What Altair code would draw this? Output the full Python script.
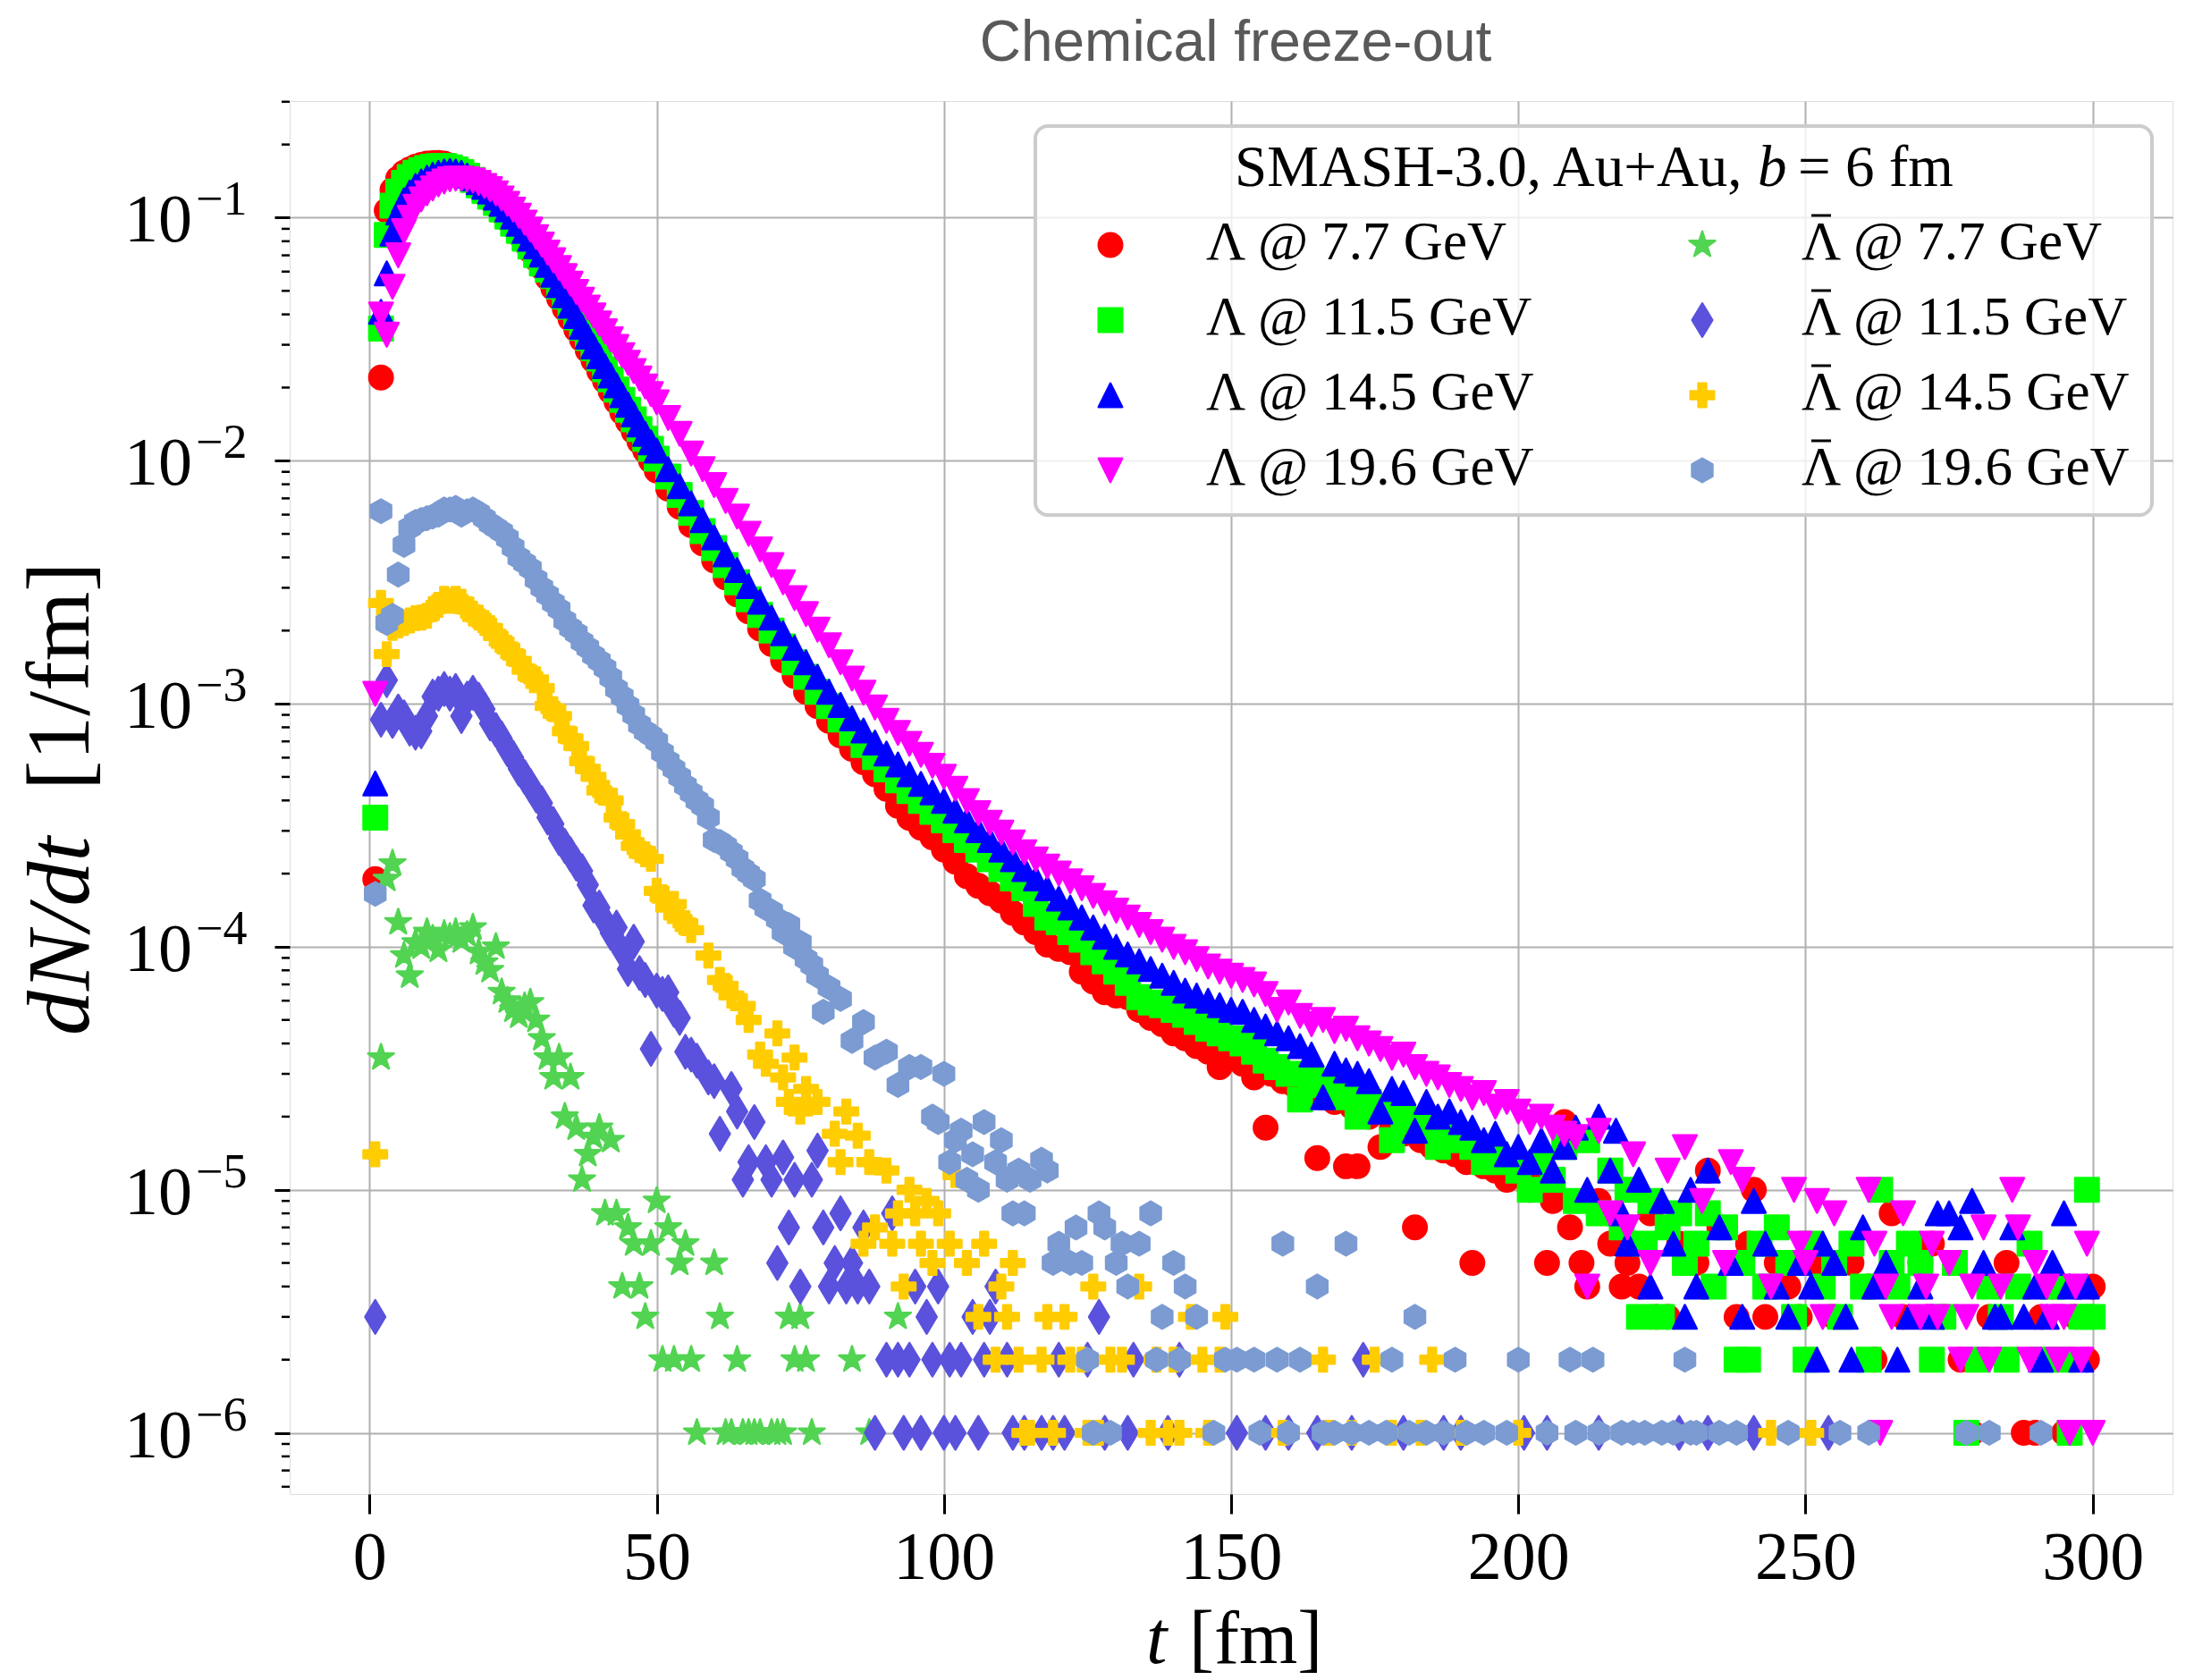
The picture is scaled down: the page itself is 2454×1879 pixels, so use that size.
import math
import altair as alt
import pandas as pd

# ---------------- data: (t [fm], dN/dt [1/fm]) ----------------
lam_77 = [(1,1.9e-4),(2,2.2e-2),(3,1.07e-1),(4,1.3e-1),(5,1.45e-1),(6,1.53e-1),(7,1.58e-1),(8,1.62e-1),(9,1.65e-1),(10,1.67e-1),
(11,1.675e-1),(12,1.68e-1),(13,1.67e-1),(14,1.64e-1),(15,1.6e-1),(16,1.55e-1),(17,1.49e-1),(18,1.41e-1),(19,1.34e-1),(20,1.27e-1),
(21,1.19e-1),(22,1.12e-1),(23,1.05e-1),(24,9.84e-2),(25,9.18e-2),(26,8.55e-2),(27,7.94e-2),(28,7.33e-2),(29,6.76e-2),(30,6.24e-2),
(31,5.66e-2),(32,5.13e-2),(33,4.66e-2),(34,4.22e-2),(35,3.83e-2),(36,3.47e-2),(37,3.15e-2),(38,2.85e-2),(39,2.59e-2),(40,2.34e-2),
(41,2.13e-2),(42,1.93e-2),(43,1.75e-2),(44,1.58e-2),(45,1.45e-2),(46,1.32e-2),(47,1.2e-2),(48,1.1e-2),(49,1.0e-2),(50,9.12e-3),
(52,7.67e-3),(54,6.46e-3),(56,5.43e-3),(58,4.57e-3),(60,3.89e-3),(62,3.31e-3),(64,2.82e-3),(66,2.4e-3),(68,2.04e-3),(70,1.76e-3),
(72,1.51e-3),(74,1.3e-3),(76,1.12e-3),(78,9.77e-4),(80,8.51e-4),(82,7.41e-4),(84,6.53e-4),(86,5.75e-4),(88,5.13e-4),(90,4.47e-4),
(92,3.8e-4),(94,3.39e-4),(96,3.09e-4),(98,2.82e-4),(100,2.51e-4),(102,2.24e-4),(104,1.95e-4),(106,1.78e-4),(108,1.66e-4),(110,1.55e-4),
(112,1.38e-4),(114,1.26e-4),(116,1.15e-4),(118,1.02e-4),(120,9.8e-5),(122,9.5e-5),(124,7.9e-5),(126,7.2e-5),(128,6.5e-5),(130,6.3e-5),
(132,6.2e-5),(134,5.5e-5),(136,5.1e-5),(138,4.8e-5),(140,4.4e-5),(142,4.2e-5),(144,3.9e-5),(146,3.7e-5),(148,3.2e-5),(150,3.5e-5),
(152,3.3e-5),(154,2.9e-5),(156,1.8e-5),(157,3.0e-5),(159,2.8e-5),(161,2.7e-5),(163,2.6e-5),(165,1.35e-5),(166,2.4e-5),(168,2.3e-5),
(170,1.25e-5),(171,2.2e-5),(172,1.25e-5),(174,2.0e-5),(176,1.5e-5),(178,1.8e-5),(180,1.7e-5),(182,7e-6),(183,1.6e-5),(185,1.5e-5),
(187,1.45e-5),(189,1.4e-5),(191,1.3e-5),(192,5e-6),(194,1.25e-5),(196,1.2e-5),(198,1.1e-5),(200,1.15e-5),(202,1.0e-5),(204,1.1e-5),
(205,5e-6),(206,9e-6),(208,1.9e-5),(209,7e-6),(211,5e-6),(212,4e-6),(214,9e-6),(216,6e-6),(218,4e-6),(219,5e-6),(221,4e-6),
(223,8e-6),(224,3e-6),(226,3e-6),(228,6e-6),(231,5e-6),(233,1.2e-5),(235,7e-6),(238,3e-6),(240,6e-6),(241,1.0e-5),(243,3e-6),
(245,5e-6),(247,4e-6),(249,3e-6),(252,5e-6),(255,3e-6),(258,5e-6),(261,4e-6),(262,2e-6),(265,8e-6),(267,3e-6),(270,5e-6),
(272,6e-6),(274,3e-6),(277,2e-6),(279,1e-6),(282,3e-6),(285,5e-6),(288,1e-6),(290,1e-6),(291,3e-6),(293,4e-6),(295,1e-6),
(297,3e-6),(299,2e-6),(300,4e-6)]

lam_115 = [(1,3.4e-4),(2,3.5e-2),(3,8.5e-2),(4,1.12e-1),(5,1.28e-1),(6,1.39e-1),(7,1.47e-1),(8,1.53e-1),(9,1.57e-1),(10,1.6e-1),
(11,1.62e-1),(12,1.63e-1),(13,1.63e-1),(14,1.61e-1),(15,1.58e-1),(16,1.54e-1),(17,1.49e-1),(18,1.43e-1),(19,1.36e-1),(20,1.29e-1),
(21,1.22e-1),(22,1.15e-1),(23,1.08e-1),(24,1.01e-1),(25,9.45e-2),(26,8.82e-2),(27,8.2e-2),(28,7.6e-2),(29,7.02e-2),(30,6.48e-2),
(31,6.11e-2),(32,5.75e-2),(33,5.21e-2),(34,4.73e-2),(35,4.29e-2),(36,3.89e-2),(37,3.52e-2),(38,3.2e-2),(39,2.9e-2),(40,2.63e-2),
(41,2.38e-2),(42,2.16e-2),(43,1.96e-2),(44,1.78e-2),(45,1.62e-2),(46,1.48e-2),(47,1.35e-2),(48,1.23e-2),(49,1.12e-2),(50,1.02e-2),
(52,8.61e-3),(54,7.24e-3),(56,6.1e-3),(58,5.13e-3),(60,4.37e-3),(62,3.72e-3),(64,3.16e-3),(66,2.69e-3),(68,2.32e-3),(70,2.0e-3),
(72,1.72e-3),(74,1.48e-3),(76,1.29e-3),(78,1.12e-3),(80,9.77e-4),(82,8.61e-4),(84,7.59e-4),(86,6.76e-4),(88,6.03e-4),(90,5.37e-4),
(92,4.84e-4),(94,4.37e-4),(96,3.98e-4),(98,3.59e-4),(100,3.31e-4),(102,3.02e-4),(104,2.75e-4),(106,2.51e-4),(108,2.29e-4),(110,2.09e-4),
(112,1.91e-4),(114,1.74e-4),(116,1.5e-4),(118,1.32e-4),(120,1.26e-4),(122,1.15e-4),(124,1.07e-4),(126,9.5e-5),(128,8.7e-5),(130,7.9e-5),
(132,7.1e-5),(134,6.2e-5),(136,5.9e-5),(138,5.75e-5),(140,5.5e-5),(142,5.25e-5),(144,4.9e-5),(146,4.6e-5),(148,4.4e-5),(150,4.2e-5),
(152,4.0e-5),(154,3.7e-5),(156,3.4e-5),(158,3.2e-5),(160,3.0e-5),(162,2.35e-5),(164,2.9e-5),(166,2.7e-5),(168,2.6e-5),(170,2.4e-5),
(172,2.0e-5),(174,2.3e-5),(176,2.2e-5),(178,1.6e-5),(180,2.0e-5),(182,1.9e-5),(184,1.8e-5),(186,1.5e-5),(188,1.7e-5),(190,1.6e-5),
(192,1.5e-5),(194,1.3e-5),(196,1.4e-5),(198,1.3e-5),(200,1.2e-5),(202,1.0e-5),(204,1.3e-5),(206,1.1e-5),(208,1.5e-5),(210,9e-6),
(212,1.6e-5),(214,8e-6),(216,1.2e-5),(218,7e-6),(219,1.0e-5),(221,3e-6),(222,6e-6),(223,9e-6),(225,3e-6),(226,7e-6),(228,8e-6),
(229,5e-6),(231,6e-6),(233,8e-6),(234,4e-6),(236,7e-6),(238,2e-6),(239,5e-6),(240,2e-6),(242,6e-6),(243,4e-6),(245,7e-6),
(247,5e-6),(248,3e-6),(250,2e-6),(251,6e-6),(253,4e-6),(255,5e-6),(256,3e-6),(258,6e-6),(260,4e-6),(261,2e-6),(263,1.0e-5),
(265,5e-6),(266,4e-6),(268,6e-6),(270,5e-6),(272,2e-6),(274,3e-6),(276,5e-6),(278,1e-6),(280,2e-6),(282,4e-6),(284,3e-6),
(285,2e-6),(287,4e-6),(289,6e-6),(291,2e-6),(293,4e-6),(295,2e-6),(296,1e-6),(298,3e-6),(299,1.0e-5),(300,3e-6)]

lam_145 = [(1,4.7e-4),(2,4.1e-2),(3,5.9e-2),(4,8.6e-2),(5,1.05e-1),(6,1.18e-1),(7,1.27e-1),(8,1.35e-1),(9,1.41e-1),(10,1.46e-1),
(11,1.5e-1),(12,1.53e-1),(13,1.55e-1),(14,1.56e-1),(15,1.55e-1),(16,1.53e-1),(17,1.49e-1),(18,1.45e-1),(19,1.4e-1),(20,1.34e-1),
(21,1.28e-1),(22,1.21e-1),(23,1.14e-1),(24,1.08e-1),(25,1.01e-1),(26,9.45e-2),(27,8.82e-2),(28,8.2e-2),(29,7.62e-2),(30,7.05e-2),
(31,6.4e-2),(32,5.82e-2),(33,5.27e-2),(34,4.79e-2),(35,4.34e-2),(36,3.94e-2),(37,3.56e-2),(38,3.24e-2),(39,2.95e-2),(40,2.69e-2),
(41,2.45e-2),(42,2.24e-2),(43,2.04e-2),(44,1.86e-2),(45,1.7e-2),(46,1.55e-2),(47,1.41e-2),(48,1.29e-2),(49,1.19e-2),(50,1.1e-2),
(52,9.23e-3),(54,7.85e-3),(56,6.68e-3),(58,5.69e-3),(60,4.84e-3),(62,4.12e-3),(64,3.55e-3),(66,3.05e-3),(68,2.63e-3),(70,2.26e-3),
(72,1.95e-3),(74,1.7e-3),(76,1.48e-3),(78,1.29e-3),(80,1.12e-3),(82,9.89e-4),(84,8.71e-4),(86,7.76e-4),(88,6.92e-4),(90,6.24e-4),
(92,5.62e-4),(94,5.13e-4),(96,4.68e-4),(98,4.32e-4),(100,3.98e-4),(102,3.63e-4),(104,3.31e-4),(106,3.02e-4),(108,2.75e-4),(110,2.51e-4),
(112,2.29e-4),(114,2.09e-4),(116,1.91e-4),(118,1.74e-4),(120,1.58e-4),(122,1.45e-4),(124,1.32e-4),(126,1.2e-4),(128,1.1e-4),(130,1.0e-4),
(132,9.3e-5),(134,8.7e-5),(136,8.1e-5),(138,7.6e-5),(140,7.1e-5),(142,6.6e-5),(144,6.3e-5),(146,6.0e-5),(148,5.75e-5),(150,5.5e-5),
(152,5.4e-5),(154,5.0e-5),(156,4.7e-5),(158,4.4e-5),(160,4.2e-5),(162,3.9e-5),(164,3.6e-5),(166,2.4e-5),(168,3.3e-5),(170,3.1e-5),
(172,3.0e-5),(174,2.8e-5),(176,2.1e-5),(178,2.6e-5),(180,2.5e-5),(182,1.75e-5),(184,2.3e-5),(186,2.0e-5),(188,2.1e-5),(190,1.9e-5),
(192,1.8e-5),(194,1.6e-5),(196,1.7e-5),(198,1.4e-5),(200,1.5e-5),(202,1.3e-5),(204,1.6e-5),(206,1.2e-5),(208,1.5e-5),(210,1.8e-5),
(212,1.0e-5),(214,2.0e-5),(216,1.2e-5),(217,1.75e-5),(218,8e-6),(219,6e-6),(221,1.1e-5),(223,4e-6),(225,9e-6),(227,6e-6),
(229,3e-6),(230,1.0e-5),(231,4e-6),(233,1.2e-5),(235,7e-6),(237,5e-6),(239,3e-6),(241,9e-6),(243,6e-6),(245,4e-6),(247,3e-6),
(249,5e-6),(251,4e-6),(252,2e-6),(253,6e-6),(255,5e-6),(257,3e-6),(258,2e-6),(260,7e-6),(262,4e-6),(264,5e-6),(266,2e-6),
(268,3e-6),(270,4e-6),(272,3e-6),(273,8e-6),(275,8e-6),(277,7e-6),(279,9e-6),(281,5e-6),(283,3e-6),(284,3e-6),(286,7e-6),
(288,3e-6),(290,4e-6),(291,2e-6),(292,3e-6),(293,5e-6),(295,8e-6),(296,4e-6),(298,2e-6),(299,4e-6)]

lam_196 = [(1,1.1e-3),(2,4.0e-2),(3,3.3e-2),(4,5.2e-2),(5,7.0e-2),(6,8.8e-2),(7,1.0e-1),(8,1.11e-1),(9,1.19e-1),(10,1.26e-1),
(11,1.32e-1),(12,1.37e-1),(13,1.41e-1),(14,1.44e-1),(15,1.45e-1),(16,1.45e-1),(17,1.44e-1),(18,1.42e-1),(19,1.39e-1),(20,1.35e-1),
(21,1.31e-1),(22,1.26e-1),(23,1.2e-1),(24,1.14e-1),(25,1.08e-1),(26,1.02e-1),(27,9.55e-2),(28,8.93e-2),(29,8.32e-2),(30,7.75e-2),
(31,7.19e-2),(32,6.68e-2),(33,6.21e-2),(34,5.75e-2),(35,5.35e-2),(36,4.95e-2),(37,4.6e-2),(38,4.27e-2),(39,3.96e-2),(40,3.67e-2),
(41,3.41e-2),(42,3.16e-2),(43,2.94e-2),(44,2.72e-2),(45,2.53e-2),(46,2.34e-2),(47,2.18e-2),(48,2.02e-2),(49,1.88e-2),(50,1.74e-2),
(52,1.5e-2),(54,1.29e-2),(56,1.07e-2),(58,9.23e-3),(60,7.94e-3),(62,6.84e-3),(64,5.89e-3),(66,5.01e-3),(68,4.32e-3),(70,3.72e-3),
(72,3.16e-3),(74,2.72e-3),(76,2.34e-3),(78,2.02e-3),(80,1.74e-3),(82,1.48e-3),(84,1.27e-3),(86,1.11e-3),(88,9.66e-4),(90,8.51e-4),
(92,7.59e-4),(94,6.84e-4),(96,6.17e-4),(98,5.56e-4),(100,5.01e-4),(102,4.47e-4),(104,3.98e-4),(106,3.55e-4),(108,3.24e-4),(110,2.95e-4),
(112,2.69e-4),(114,2.45e-4),(116,2.29e-4),(118,2.14e-4),(120,2.0e-4),(122,1.86e-4),(124,1.74e-4),(126,1.62e-4),(128,1.51e-4),(130,1.41e-4),
(132,1.32e-4),(134,1.23e-4),(136,1.15e-4),(138,1.07e-4),(140,1.0e-4),(142,9.5e-5),(144,8.9e-5),(146,8.3e-5),(148,7.9e-5),(150,7.6e-5),
(152,7.3e-5),(154,7.0e-5),(156,6.4e-5),(158,5.5e-5),(160,5.9e-5),(162,5.2e-5),(164,4.8e-5),(166,5.0e-5),(168,4.5e-5),(170,4.6e-5),
(172,4.2e-5),(174,4.0e-5),(176,3.8e-5),(178,3.5e-5),(180,3.6e-5),(182,3.2e-5),(184,3.0e-5),(186,2.9e-5),(188,2.7e-5),(190,2.6e-5),
(192,2.4e-5),(194,2.5e-5),(196,2.2e-5),(198,2.3e-5),(200,2.1e-5),(202,1.9e-5),(204,2.0e-5),(206,1.8e-5),(208,1.7e-5),(210,1.65e-5),
(212,4e-6),(214,1.75e-5),(216,8e-6),(219,7e-6),(220,1.4e-5),(223,5e-6),(226,1.2e-5),(229,1.5e-5),(232,9e-6),(236,5e-6),
(237,1.3e-5),(239,1.1e-5),(244,4e-6),(248,1.0e-5),(249,6e-6),(250,5e-6),(252,9e-6),(253,3e-6),(255,8e-6),(261,1.0e-5),
(262,6e-6),(263,1e-6),(264,4e-6),(265,3e-6),(267,8e-6),(270,3e-6),(271,4e-6),(272,6e-6),(273,3e-6),(275,5e-6),(277,2e-6),
(278,3e-6),(279,4e-6),(281,7e-6),(282,2e-6),(284,4e-6),(286,1.0e-5),(287,7e-6),(289,2e-6),(290,5e-6),(292,4e-6),(293,3e-6),
(294,2e-6),(295,3e-6),(296,1e-6),(297,4e-6),(298,2e-6),(299,6e-6),(300,1e-6)]

alam_77 = [(2,3.5e-5),(3,1.9e-4),(4,2.2e-4),(5,1.26e-4),(6,9.2e-5),(7,7.6e-5),(8,1.04e-4),(9,1.0e-4),(10,1.15e-4),(11,1.08e-4),
(12,9.7e-5),(13,1.13e-4),(14,1.1e-4),(15,1.15e-4),(16,1.06e-4),(17,1.12e-4),(18,1.2e-4),(19,9.5e-5),(20,8.6e-5),(21,8.0e-5),
(22,1.0e-4),(23,6.5e-5),(24,6.0e-5),(25,5.5e-5),(26,5.2e-5),(27,5.7e-5),(28,5.9e-5),(29,5.0e-5),(30,4.2e-5),(31,3.5e-5),
(32,2.9e-5),(33,3.5e-5),(34,2.0e-5),(35,2.9e-5),(36,1.8e-5),(37,1.1e-5),(38,1.4e-5),(39,1.65e-5),(40,1.8e-5),(41,8e-6),
(42,1.6e-5),(43,8e-6),(44,4e-6),(45,7e-6),(46,6e-6),(47,4e-6),(48,3e-6),(49,6e-6),(50,9e-6),(51,2e-6),(52,7e-6),(53,2e-6),
(54,5e-6),(55,6e-6),(56,2e-6),(57,1e-6),(60,5e-6),(61,3e-6),(62,1e-6),(63,1e-6),(64,2e-6),(65,1e-6),(66,1e-6),(67,1e-6),
(68,1e-6),(70,1e-6),(71,1e-6),(72,1e-6),(73,3e-6),(74,2e-6),(75,3e-6),(76,2e-6),(77,1e-6),(84,2e-6),(87,1e-6),(92,3e-6)]

alam_115 = [(1,3e-6),(2,8.6e-4),(3,1.25e-3),(4,8.5e-4),(5,9.3e-4),(6,8.8e-4),(7,7.9e-4),(8,7.6e-4),(9,7.7e-4),(10,8.9e-4),
(11,1.07e-3),(12,1.1e-3),(13,1.15e-3),(14,1.1e-3),(15,1.13e-3),(16,8.9e-4),(17,1.05e-3),(18,1.11e-3),(19,1.04e-3),(20,9.5e-4),
(21,8.3e-4),(22,7.8e-4),(23,7.2e-4),(24,6.5e-4),(25,6.0e-4),(26,5.4e-4),(27,5.0e-4),(28,4.6e-4),(29,4.2e-4),(30,3.9e-4),
(31,3.4e-4),(32,3.2e-4),(33,2.8e-4),(34,2.6e-4),(35,2.4e-4),(36,2.2e-4),(37,2.05e-4),(38,1.8e-4),(39,1.48e-4),(40,1.45e-4),
(41,1.27e-4),(42,1.14e-4),(43,1.2e-4),(44,9.6e-5),(45,8.1e-5),(46,1.05e-4),(47,7.8e-5),(48,7.3e-5),(49,3.8e-5),(50,6.6e-5),
(51,6.4e-5),(52,6.5e-5),(53,5.5e-5),(54,5.1e-5),(55,3.7e-5),(56,3.6e-5),(57,3.4e-5),(59,2.9e-5),(60,2.8e-5),(61,1.7e-5),
(63,2.6e-5),(64,2.1e-5),(65,1.1e-5),(66,1.3e-5),(67,1.9e-5),(69,1.3e-5),(70,1.1e-5),(71,5e-6),(72,1.36e-5),(73,7e-6),
(74,1.1e-5),(75,4e-6),(77,1.1e-5),(78,1.45e-5),(79,7e-6),(80,4e-6),(81,5e-6),(82,8e-6),(83,4e-6),(84,5e-6),(85,4e-6),
(86,7e-6),(87,4e-6),(88,1e-6),(90,2e-6),(91,8e-6),(92,2e-6),(93,1e-6),(94,2e-6),(95,4e-6),(96,1e-6),(97,3e-6),(98,2e-6),
(99,4e-6),(100,1e-6),(101,2e-6),(102,1e-6),(103,2e-6),(105,3e-6),(106,1e-6),(107,2e-6),(108,3e-6),(109,4e-6),(111,2e-6),
(112,1e-6),(114,1e-6),(117,1e-6),(119,1e-6),(120,2e-6),(121,1e-6),(125,2e-6),(127,3e-6),(128,1e-6),(132,1e-6),(133,2e-6),
(139,1e-6),(141,2e-6),(151,1e-6),(156,1e-6),(160,1e-6),(165,1e-6),(171,1e-6),(173,2e-6),(180,1e-6),(187,1e-6),(190,1e-6),
(201,1e-6),(205,1e-6),(214,1e-6),(228,1e-6),(233,1e-6),(241,1e-6),(254,1e-6)]

alam_145 = [(1,1.4e-5),(2,2.6e-3),(3,1.6e-3),(4,2.05e-3),(5,2.1e-3),(6,2.15e-3),(7,2.2e-3),(8,2.25e-3),(9,2.26e-3),(10,2.3e-3),
(11,2.45e-3),(12,2.55e-3),(13,2.7e-3),(14,2.65e-3),(15,2.7e-3),(16,2.63e-3),(17,2.45e-3),(18,2.35e-3),(19,2.26e-3),(20,2.15e-3),
(21,2.05e-3),(22,1.9e-3),(23,1.8e-3),(24,1.7e-3),(25,1.6e-3),(26,1.5e-3),(27,1.38e-3),(28,1.3e-3),(29,1.26e-3),(30,1.16e-3),
(31,9.8e-4),(32,9.5e-4),(33,8.9e-4),(34,7.7e-4),(35,7.2e-4),(36,6.7e-4),(37,5.8e-4),(38,5.4e-4),(39,5.0e-4),(40,4.4e-4),
(41,4.3e-4),(42,4.0e-4),(43,3.4e-4),(44,3.2e-4),(45,2.9e-4),(46,2.6e-4),(47,2.5e-4),(48,2.4e-4),(49,2.3e-4),(50,1.7e-4),
(51,1.6e-4),(52,1.45e-4),(53,1.5e-4),(54,1.3e-4),(55,1.25e-4),(56,1.17e-4),(59,9.2e-5),(61,7.3e-5),(62,6.9e-5),(63,6.3e-5),
(65,5.7e-5),(66,5.0e-5),(68,3.6e-5),(69,3.3e-5),(71,4.4e-5),(72,2.9e-5),(73,2.3e-5),(74,3.5e-5),(75,2.1e-5),(76,2.6e-5),
(78,2.3e-5),(81,1.7e-5),(82,1.3e-5),(83,2.1e-5),(85,1.67e-5),(86,6e-6),(87,1.3e-5),(88,7e-6),(90,1.2e-5),(91,6e-6),
(92,8e-6),(93,4e-6),(94,1.0e-5),(95,8e-6),(96,6e-6),(97,9e-6),(98,5e-6),(99,8e-6),(101,6e-6),(102,1.15e-5),(104,5e-6),
(106,3e-6),(107,6e-6),(109,2e-6),(110,4e-6),(111,3e-6),(112,5e-6),(113,2e-6),(114,1e-6),(115,1e-6),(117,2e-6),(118,3e-6),
(119,1e-6),(121,3e-6),(122,2e-6),(124,2e-6),(125,1e-6),(126,4e-6),(127,1e-6),(129,2e-6),(131,2e-6),(134,4e-6),(136,1e-6),
(137,2e-6),(139,1e-6),(140,2e-6),(141,1e-6),(143,3e-6),(145,2e-6),(146,1e-6),(148,2e-6),(149,3e-6),(159,1e-6),(166,2e-6),
(167,1e-6),(171,1e-6),(175,2e-6),(178,1e-6),(183,1e-6),(185,2e-6),(190,1e-6),(200,1e-6),(244,1e-6),(251,1e-6)]

alam_196 = [(1,1.65e-4),(2,6.2e-3),(3,2.15e-3),(4,2.3e-3),(5,3.4e-3),(6,4.5e-3),(7,5.3e-3),(8,5.6e-3),(9,5.7e-3),(10,5.8e-3),
(11,5.9e-3),(12,6.0e-3),(13,6.3e-3),(14,6.3e-3),(15,6.4e-3),(16,6.0e-3),(17,6.2e-3),(18,6.3e-3),(19,6.1e-3),(20,5.8e-3),
(21,5.5e-3),(22,5.3e-3),(23,5.1e-3),(24,4.8e-3),(25,4.4e-3),(26,4.0e-3),(27,3.8e-3),(28,3.6e-3),(29,3.25e-3),(30,3.0e-3),
(31,2.8e-3),(32,2.6e-3),(33,2.45e-3),(34,2.2e-3),(35,2.05e-3),(36,1.95e-3),(37,1.8e-3),(38,1.7e-3),(39,1.58e-3),(40,1.5e-3),
(41,1.4e-3),(42,1.28e-3),(43,1.15e-3),(44,1.07e-3),(45,9.8e-4),(46,9.0e-4),(47,8.2e-4),(48,7.7e-4),(49,7.4e-4),(50,7.0e-4),
(51,6.3e-4),(52,5.8e-4),(53,5.4e-4),(54,5.0e-4),(55,4.6e-4),(56,4.3e-4),(57,4.0e-4),(58,3.8e-4),(59,3.4e-4),(60,2.75e-4),
(61,2.7e-4),(62,2.6e-4),(63,2.45e-4),(64,2.3e-4),(65,2.1e-4),(66,2.0e-4),(67,1.9e-4),(68,1.55e-4),(69,1.44e-4),(70,1.4e-4),
(71,1.3e-4),(72,1.15e-4),(73,1.23e-4),(74,1.0e-4),(75,1.04e-4),(76,8.9e-5),(77,8.4e-5),(78,7.6e-5),(79,5.4e-5),(80,6.8e-5),
(82,6.1e-5),(84,4.1e-5),(86,4.9e-5),(88,3.5e-5),(90,3.7e-5),(92,2.7e-5),(94,3.2e-5),(96,3.2e-5),(98,2.0e-5),(99,1.9e-5),
(100,3.0e-5),(101,1.3e-5),(102,1.6e-5),(103,1.75e-5),(104,1.1e-5),(105,1.4e-5),(106,1.0e-5),(107,1.9e-5),(109,1.3e-5),
(110,1.6e-5),(111,1.1e-5),(112,8e-6),(113,1.2e-5),(114,8e-6),(115,1.1e-5),(117,1.33e-5),(118,1.2e-5),(119,5e-6),(120,6e-6),
(122,5e-6),(123,7e-6),(124,5e-6),(125,2e-6),(126,1e-6),(127,8e-6),(128,7e-6),(129,1e-6),(130,5e-6),(131,6e-6),(132,4e-6),
(134,6e-6),(136,8e-6),(137,2e-6),(138,3e-6),(140,5e-6),(141,2e-6),(142,4e-6),(144,3e-6),(147,1e-6),(149,2e-6),(151,2e-6),
(154,2e-6),(155,1e-6),(158,2e-6),(159,6e-6),(160,1e-6),(162,2e-6),(165,4e-6),(166,1e-6),(168,1e-6),(170,6e-6),(171,1e-6),
(174,1e-6),(177,1e-6),(178,2e-6),(181,1e-6),(182,3e-6),(184,1e-6),(187,1e-6),(189,2e-6),(191,1e-6),(194,1e-6),(198,1e-6),
(200,2e-6),(205,1e-6),(209,2e-6),(210,1e-6),(213,2e-6),(214,1e-6),(218,1e-6),(220,1e-6),(222,1e-6),(225,1e-6),(227,1e-6),
(229,2e-6),(230,1e-6),(231,1e-6),(235,1e-6),(238,1e-6),(247,1e-6),(256,1e-6),(261,1e-6),(278,1e-6),(282,1e-6),(291,1e-6)]

x_ticks = [0, 50, 100, 150, 200, 250, 300]
y_ticks = [1e-6, 1e-5, 1e-4, 1e-3, 1e-2, 1e-1]
y_tick_exp = ["\u22126", "\u22125", "\u22124", "\u22123", "\u22122", "\u22121"]
legend_labels = ["\u039b @ 7.7 GeV", "\u039b @ 11.5 GeV", "\u039b @ 14.5 GeV", "\u039b @ 19.6 GeV"]

# ---------------- marker shapes (matplotlib-like) ----------------
def star_path(scale=1.15):
    pts = []
    for i in range(10):
        r = (1.0 if i % 2 == 0 else 0.382) * scale
        a = math.radians(-90 + 36 * i)
        pts.append(f"{r*math.cos(a):.3f},{r*math.sin(a):.3f}")
    return "M" + "L".join(pts) + "Z"

TRI_UP = "M0,-1L1,1L-1,1Z"
TRI_DOWN = "M0,1L1,-1L-1,-1Z"
STAR = star_path()
THIN_DIAMOND = "M0,-1.414L0.849,0L0,1.414L-0.849,0Z"
PLUS_FILLED = ("M-0.333,-1L0.333,-1L0.333,-0.333L1,-0.333L1,0.333L0.333,0.333L0.333,1L-0.333,1"
               "L-0.333,0.333L-1,0.333L-1,-0.333L-0.333,-0.333Z")
HEXAGON = "M0,-1L0.866,-0.5L0.866,0.5L0,1L-0.866,0.5L-0.866,-0.5Z"

# drawing order (interleaved as in the original figure)
series = [
    ("L77", lam_77, "#ff0000", "circle"),
    ("A77", alam_77, "#52d452", STAR),
    ("L115", lam_115, "#00ff00", "square"),
    ("A115", alam_115, "#5a52dc", THIN_DIAMOND),
    ("L145", lam_145, "#0000ff", TRI_UP),
    ("A145", alam_145, "#ffcc00", PLUS_FILLED),
    ("L196", lam_196, "#ff00ff", TRI_DOWN),
    ("A196", alam_196, "#7b9bd2", HEXAGON),
]

rows = []
for name, pts, _, _ in series:
    for t, v in pts:
        rows.append({"series": name, "t": t, "v": v})
df = pd.DataFrame(rows)

names = [s[0] for s in series]
colors = [s[2] for s in series]
shapes = [s[3] for s in series]

W, H = 2106, 1558
MS = 700
SW = 2.5
SERIF = "Liberation Serif"

xscale = alt.Scale(domain=[-13.9, 313.9], nice=False, zero=False)
yscale = alt.Scale(type="log", domain=[5.6e-7, 0.302], nice=False)
xaxis = alt.Axis(values=x_ticks, title=None, grid=True, gridColor="#b0b0b0", gridWidth=2,
                 tickSize=22, tickWidth=3, tickColor="black", domain=False,
                 labelFont=SERIF, labelFontSize=76, labelColor="black", labelPadding=12,
                 labelFlush=False, labelOverlap=False)
yaxis = alt.Axis(values=y_ticks, title=None, grid=True, gridColor="#b0b0b0", gridWidth=2,
                 tickSize=17, tickWidth=3, tickColor="black", domain=False, labels=False)

cscale = alt.Scale(domain=names, range=colors)
points = alt.Chart(df).mark_point(filled=True, opacity=1, size=MS, strokeWidth=SW,
                                  strokeJoin="round").encode(
    x=alt.X("t:Q", scale=xscale, axis=xaxis),
    y=alt.Y("v:Q", scale=yscale, axis=yaxis),
    color=alt.Color("series:N", scale=cscale, legend=None),
    stroke=alt.Stroke("series:N", scale=cscale, legend=None),
    shape=alt.Shape("series:N", scale=alt.Scale(domain=names, range=shapes), legend=None),
)

# minor log ticks on the y axis
minor_vals = []
for k in range(-7, 0):
    for m in range(2, 10):
        val = m * 10.0 ** k
        if 5.6e-7 <= val <= 0.302:
            minor_vals.append(val)
minor = alt.Chart(pd.DataFrame({"v": minor_vals})).mark_rule(color="black", strokeWidth=2.5).encode(
    y=alt.Y("v:Q", scale=yscale, axis=yaxis), x=alt.value(-9), x2=alt.value(0))

ylab_df = pd.DataFrame({"v": y_ticks, "e": y_tick_exp})
tens = alt.Chart(ylab_df).mark_text(text="10", align="right", baseline="alphabetic", font=SERIF,
                                    fontSize=76, dy=27, color="black").encode(
    y=alt.Y("v:Q", scale=yscale, axis=yaxis), x=alt.value(-109))
exps = alt.Chart(ylab_df).mark_text(align="left", baseline="alphabetic", font=SERIF,
                                    fontSize=54, dy=-3, color="black").encode(
    y=alt.Y("v:Q", scale=yscale, axis=yaxis), x=alt.value(-105), text="e:N")

one = pd.DataFrame({"a": [0]})

def label(txt, x, y, size, italic=False, font=SERIF, align="left", angle=None, color="black"):
    kw = dict(text=txt, align=align, baseline="alphabetic", font=font, fontSize=size, color=color)
    if italic:
        kw["fontStyle"] = "italic"
    if angle is not None:
        kw["angle"] = angle
    return alt.Chart(one).mark_text(**kw).encode(x=alt.value(x), y=alt.value(y))

decor = []
# title
decor.append(label("Chemical freeze-out", 1058, -45, 64, font="Liberation Sans", align="center", color="#595959"))
# x title
decor.append(label("t", 958, 1747, 84, italic=True))
decor.append(label("[fm]", 1006, 1747, 84))
# y title
decor.append(label("dN/dt", -225, 1045, 100, italic=True, angle=270))
decor.append(label("[1/fm]", -225, 771, 100, angle=270))

# legend frame
decor.append(alt.Chart(one).mark_rect(cornerRadius=14, fill="white", fillOpacity=0.8,
                                      stroke="#cccccc", strokeWidth=4).encode(
    x=alt.value(834), x2=alt.value(2083), y=alt.value(28), y2=alt.value(463)))
# legend title
decor.append(label("SMASH-3.0, Au+Au, ", 1057, 95, 65))
decor.append(label("b", 1642, 95, 65, italic=True))
decor.append(label("= 6 fm", 1687, 95, 65))

row_sym_y = [161, 245, 329, 413]
row_base_y = [177, 261, 345, 429]
lam_series = [series[0], series[2], series[4], series[6]]
alam_series = [series[1], series[3], series[5], series[7]]
for i in range(4):
    for (name, _, col, shp), sx, tx, bar in ((lam_series[i], 918, 1025, False),
                                              (alam_series[i], 1580, 1691, True)):
        decor.append(alt.Chart(one).mark_point(filled=True, opacity=1, size=MS, strokeWidth=SW,
                                               strokeJoin="round", shape=shp, color=col,
                                               stroke=col).encode(
            x=alt.value(sx), y=alt.value(row_sym_y[i])))
        decor.append(label(legend_labels[i], tx, row_base_y[i], 61))
        if bar:
            decor.append(alt.Chart(one).mark_rule(color="black", strokeWidth=3).encode(
                x=alt.value(tx + 11), x2=alt.value(tx + 33), y=alt.value(row_base_y[i] - 49)))

chart = alt.layer(points, minor, tens, exps, *decor).properties(
    width=W, height=H,
    autosize=alt.AutoSizeParams(type="none"),
    padding={"left": 324, "top": 113, "right": 24, "bottom": 208},
).configure_view(stroke="black", strokeWidth=3.5).configure(background="white")

chart.save("out.html", embed_options={"renderer": "svg", "actions": False})
